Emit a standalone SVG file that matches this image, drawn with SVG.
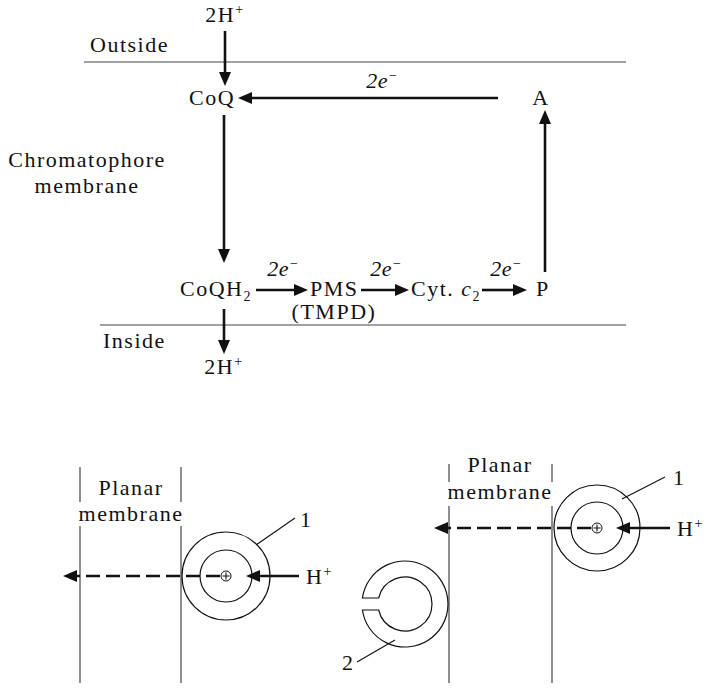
<svg xmlns="http://www.w3.org/2000/svg" width="710" height="694" viewBox="0 0 710 694">
<style>
text{font-family:"Liberation Serif","Times New Roman",serif;font-size:22px;letter-spacing:1.5px;fill:#111}
.it{font-style:italic;letter-spacing:0.5px}
.sup{font-size:14px}
.sub{font-size:14px}
.mem{stroke:#444;stroke-width:1.2;fill:none}
.arr{stroke:#111;stroke-width:2.6;fill:none;marker-end:url(#ah)}
.dash{stroke:#111;stroke-width:2.6;fill:none;stroke-dasharray:14 6;marker-end:url(#ah)}
.thin{stroke:#111;stroke-width:1.1;fill:none}
.ring{stroke:#111;stroke-width:1.2;fill:none}
</style>
<defs>
<marker id="ah" markerWidth="14" markerHeight="12" refX="1" refY="6" orient="auto" markerUnits="userSpaceOnUse">
<path d="M0,0 L14,6 L0,12 Z" fill="#111"/>
</marker>
</defs>
<rect width="710" height="694" fill="#fff"/>

<g id="membranes">
<line class="mem" x1="84" y1="62" x2="626" y2="62"/>
<line class="mem" x1="100" y1="325" x2="626" y2="325"/>
<text x="90" y="52">Outside</text>
<text x="103" y="348">Inside</text>
<text x="87" y="167" text-anchor="middle">Chromatophore</text>
<text x="87" y="193" text-anchor="middle">membrane</text>
</g>

<g id="connectors">
<line class="arr" x1="225" y1="31" x2="225" y2="73"/>
<line class="arr" x1="498" y1="98" x2="251" y2="98"/>
<line class="arr" x1="545" y1="272" x2="545" y2="123"/>
<line class="arr" x1="224" y1="115" x2="224" y2="250"/>
<line class="arr" x1="256" y1="290" x2="295" y2="290"/>
<line class="arr" x1="361" y1="290" x2="396" y2="290"/>
<line class="arr" x1="482" y1="290" x2="514" y2="290"/>
<line class="arr" x1="224" y1="309" x2="224" y2="341"/>
<text class="it" x="382" y="88" text-anchor="middle">2e<tspan class="sup" dy="-8">−</tspan></text>
<text class="it" x="283" y="276" text-anchor="middle">2e<tspan class="sup" dy="-8">−</tspan></text>
<text class="it" x="386" y="276" text-anchor="middle">2e<tspan class="sup" dy="-8">−</tspan></text>
<text class="it" x="506" y="276" text-anchor="middle">2e<tspan class="sup" dy="-8">−</tspan></text>
</g>

<g id="h-out"><text x="225" y="22" text-anchor="middle">2H<tspan class="sup" dy="-8">+</tspan></text></g>
<g id="coq"><text x="212" y="105" text-anchor="middle">CoQ</text></g>
<g id="a"><text x="541" y="105" text-anchor="middle">A</text></g>
<g id="coqh2"><text x="180" y="296">CoQH<tspan class="sub" dy="5">2</tspan></text></g>
<g id="pms"><text x="310" y="296">PMS</text><text x="334" y="319" text-anchor="middle">(TMPD)</text></g>
<g id="cyt"><text x="411" y="296">Cyt. <tspan font-style="italic">c</tspan><tspan class="sub" dy="5">2</tspan></text></g>
<g id="p"><text x="536" y="296">P</text></g>
<g id="h-in"><text x="224" y="374" text-anchor="middle">2H<tspan class="sup" dy="-8">+</tspan></text></g>

<g id="left-panel">
<line class="mem" x1="80" y1="467" x2="80" y2="502"/>
<line class="mem" x1="80" y1="526" x2="80" y2="683"/>
<line class="mem" x1="181" y1="467" x2="181" y2="502"/>
<line class="mem" x1="181" y1="526" x2="181" y2="683"/>
<text x="131" y="495" text-anchor="middle">Planar</text>
<text x="131" y="521" text-anchor="middle">membrane</text>
<circle class="ring" cx="226" cy="576" r="44"/>
<circle class="ring" cx="226" cy="576" r="26"/>
<line class="dash" x1="220" y1="576" x2="76" y2="576"/>
<circle cx="226" cy="576" r="5" fill="#fff" stroke="#111" stroke-width="1"/>
<path d="M222.5,576 H229.5 M226,572.5 V579.5" class="thin"/>
<line class="arr" x1="299" y1="576" x2="259" y2="576"/>
<text x="306" y="584">H<tspan class="sup" dy="-8">+</tspan></text>
<line class="thin" x1="256" y1="545" x2="295" y2="518"/>
<text x="300" y="527">1</text>
</g>

<g id="right-panel">
<line class="mem" x1="449" y1="464" x2="449" y2="482"/>
<line class="mem" x1="449" y1="506" x2="449" y2="683"/>
<line class="mem" x1="552" y1="464" x2="552" y2="482"/>
<line class="mem" x1="552" y1="506" x2="552" y2="683"/>
<text x="500" y="472" text-anchor="middle">Planar</text>
<text x="500" y="499" text-anchor="middle">membrane</text>
<circle class="ring" cx="597" cy="528" r="43"/>
<circle class="ring" cx="597" cy="528" r="26"/>
<line class="dash" x1="591" y1="528" x2="447" y2="528"/>
<circle cx="597" cy="528" r="5" fill="#fff" stroke="#111" stroke-width="1"/>
<path d="M593.5,528 H600.5 M597,524.5 V531.5" class="thin"/>
<line class="arr" x1="670" y1="528" x2="629" y2="528"/>
<text x="677" y="536">H<tspan class="sup" dy="-8">+</tspan></text>
<line class="thin" x1="622" y1="499" x2="665" y2="477"/>
<text x="673" y="485">1</text>
</g>

<g id="ring2">
<path class="ring" fill="#fff" d="M362.42,598 A43 43 0 1 1 362.42,610 L378.68,610 A27 27 0 1 0 378.68,598 Z"/>
<line class="thin" x1="357" y1="662" x2="395" y2="640"/>
<text x="342" y="670">2</text>
</g>
</svg>
